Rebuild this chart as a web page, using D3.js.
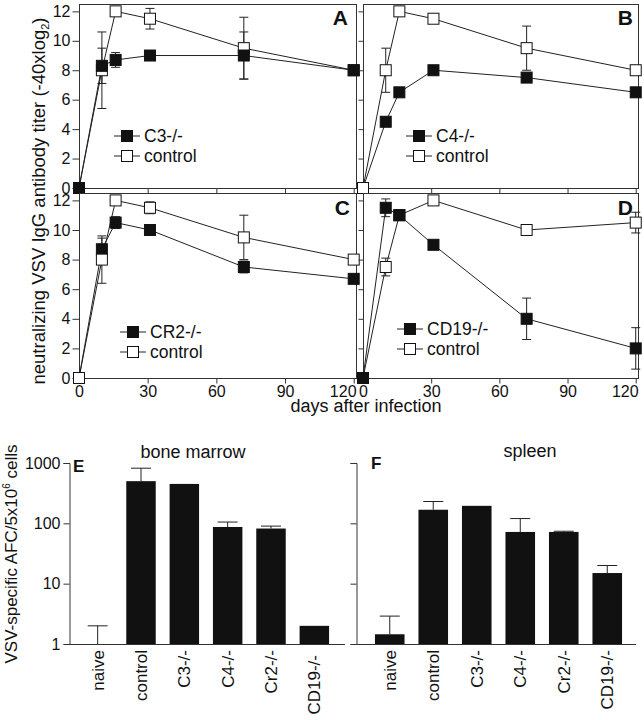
<!DOCTYPE html>
<html><head><meta charset="utf-8">
<script src="https://cdn.jsdelivr.net/npm/d3@7"></script>
<style>
body{margin:0;background:#fff}
svg{display:block}
text{font-family:"Liberation Sans",Arial,Helvetica,sans-serif;fill:#111}
</style>
</head><body>
<svg id="c" width="644" height="720"></svg>
<script>
// ---------- data ----------
const days = [0, 10, 16, 31, 72, 120];
const xTicks = [0, 30, 60, 90, 120];
const yTicks = [0, 2, 4, 6, 8, 10, 12];
const panelLetters = ["A", "B", "C", "D"];
const koNames = ["C3-/-", "C4-/-", "CR2-/-", "CD19-/-"];
const ctrlName = "control";

const koA = [0, 8.3, 8.7, 9, 9, 8];
const koAErr = [0, 1.2, 0.5, 0, 1.6, 0];
const ctrlA = [0, 8, 12, 11.5, 9.5, 8];
const ctrlAErr = [0, 2.6, 0, 0.7, 2.1, 0];

const koB = [0, 4.5, 6.5, 8, 7.5, 6.5];
const koBErr = [0, 0.3, 0, 0, 0.3, 0.3];
const ctrlB = [0, 8, 12, 11.5, 9.5, 8];
const ctrlBErr = [0, 1.5, 0, 0.3, 1.5, 0];

const koC = [0, 8.7, 10.5, 10, 7.5, 6.7];
const koCErr = [0, 0.75, 0.4, 0, 0.4, 0];
const ctrlC = [0, 8, 12, 11.5, 9.5, 8];
const ctrlCErr = [0, 1.6, 0, 0.4, 1.5, 0];

const koD = [0, 11.5, 11, 9, 4, 2];
const koDErr = [0, 0.6, 0, 0, 1.4, 1.4];
const ctrlD = [0, 7.5, 11, 12, 10, 10.5];
const ctrlDErr = [0, 0.6, 0, 0, 0, 0.7];

const barCats = ["naive", "control", "C3-/-", "C4-/-", "Cr2-/-", "CD19-/-"];
const boneMarrow = [1, 500, 450, 87, 82, 2];
const boneMarrowUpper = [2, 820, 450, 105, 90, 2];
const spleen = [1.45, 168, 195, 72, 72, 15];
const spleenUpper = [2.9, 230, 195, 120, 74, 20];
const logTicks = [1, 10, 100, 1000];

// ---------- drawing ----------
const svg = d3.select("#c");
const ink = "#111";

const lineSeries = [
  {ko: koA, koErr: koAErr, ctrl: ctrlA, ctrlErr: ctrlAErr},
  {ko: koB, koErr: koBErr, ctrl: ctrlB, ctrlErr: ctrlBErr},
  {ko: koC, koErr: koCErr, ctrl: ctrlC, ctrlErr: ctrlCErr},
  {ko: koD, koErr: koDErr, ctrl: ctrlD, ctrlErr: ctrlDErr}
];
const lineLayout = [
  {x0: 79, x1: 356, y0: 4, y1: 188, xLab: false, yLab: true, front: "ko", legX: 127, legY: 136, letX: 348, letY: 25},
  {x0: 363, x1: 638, y0: 4, y1: 188, xLab: false, yLab: false, front: "ctrl", legX: 419, legY: 136, letX: 633, letY: 25},
  {x0: 79, x1: 356, y0: 193, y1: 378, xLab: true, yLab: true, front: "ctrl", legX: 133, legY: 332, letX: 350, letY: 215},
  {x0: 363, x1: 638, y0: 193, y1: 378, xLab: true, yLab: false, front: "ko", legX: 410, legY: 329, letX: 633, letY: 215}
];

const sq = 11;
function marker(g, cx, cy, filled) {
  g.append("rect").attr("x", cx - sq / 2).attr("y", cy - sq / 2)
    .attr("width", sq).attr("height", sq)
    .attr("fill", filled ? ink : "#fff").attr("stroke", ink).attr("stroke-width", 1);
}

lineSeries.forEach((s, p) => {
  const L = lineLayout[p];
  const g = svg.append("g");
  const x = d3.scaleLinear().domain([0, 121]).range([L.x0, L.x1]);
  const y = d3.scaleLinear().domain([0, 12.5]).range([L.y1, L.y0]);

  g.append("rect").attr("x", L.x0 + 0.5).attr("y", L.y0 + 0.5)
    .attr("width", L.x1 - L.x0).attr("height", L.y1 - L.y0)
    .attr("fill", "none").attr("stroke", "#333").attr("stroke-width", 1);

  const ya = g.append("g").attr("transform", `translate(${L.x0 + 0.5},0)`)
    .call(d3.axisLeft(y).tickValues(yTicks).tickSize(L.yLab ? 7 : 5).tickPadding(2)
      .tickFormat(L.yLab ? d3.format("d") : ""));
  ya.select(".domain").remove();
  ya.selectAll("text").style("font-size", "16px").attr("fill", ink);
  ya.selectAll("line").attr("stroke", "#333");

  const xa = g.append("g").attr("transform", `translate(0,${L.y1 + 0.5})`)
    .call(d3.axisBottom(x).tickValues(xTicks).tickSize(5).tickPadding(2)
      .tickFormat(L.xLab ? d3.format("d") : ""));
  xa.select(".domain").remove();
  xa.selectAll("text").style("font-size", "16px").attr("fill", ink);
  xa.selectAll("line").attr("stroke", "#333");
  xa.selectAll(".tick").filter(d => d === 120).select("text").attr("dx", -11);

  const line = d3.line().x((d, i) => x(days[i])).y(d => y(d));
  ["ctrl", "ko"].forEach(k => {
    g.append("path").datum(s[k]).attr("d", line)
      .attr("fill", "none").attr("stroke", "#222").attr("stroke-width", 1);
  });
  // error bars
  ["ctrl", "ko"].forEach(k => {
    s[k].forEach((v, i) => {
      const e = s[k + "Err"][i];
      if (!e) return;
      const cx = x(days[i]);
      g.append("line").attr("x1", cx).attr("x2", cx).attr("y1", y(v - e)).attr("y2", y(v + e))
        .attr("stroke", "#222").attr("stroke-width", 1);
      [v - e, v + e].forEach(t => {
        g.append("line").attr("x1", cx - 4.5).attr("x2", cx + 4.5).attr("y1", y(t)).attr("y2", y(t))
          .attr("stroke", "#222").attr("stroke-width", 1);
      });
    });
  });
  const order = L.front === "ko" ? ["ctrl", "ko"] : ["ko", "ctrl"];
  order.forEach(k => {
    s[k].forEach((v, i) => marker(g, x(days[i]), y(v), k === "ko"));
  });

  // legend
  [[koNames[p], true], [ctrlName, false]].forEach((d, j) => {
    const ly = L.legY + j * 20;
    g.append("line").attr("x1", L.legX - 13).attr("x2", L.legX + 13).attr("y1", ly).attr("y2", ly)
      .attr("stroke", "#222");
    marker(g, L.legX, ly, d[1]);
    g.append("text").attr("x", L.legX + 17).attr("y", ly).attr("dy", "0.36em")
      .style("font-size", "17.5px").text(d[0]);
  });

  g.append("text").attr("x", L.letX).attr("y", L.letY).attr("text-anchor", "end")
    .style("font-size", "21px").style("font-weight", "bold").text(panelLetters[p]);
});

svg.append("text").attr("x", 366).attr("y", 412).attr("text-anchor", "middle")
  .style("font-size", "18px").text("days after infection");

const yt = svg.append("text").attr("transform", "translate(45,201) rotate(-90)")
  .attr("text-anchor", "middle").style("font-size", "18.5px");
yt.append("tspan").text("neutralizing VSV IgG antibody titer (-40xlog");
yt.append("tspan").attr("dy", 4).style("font-size", "11px").text("2");
yt.append("tspan").attr("dy", -4).text(")");

// ---------- bar panels ----------
const barSets = [
  {vals: boneMarrow, upper: boneMarrowUpper, title: "bone marrow", letter: "E"},
  {vals: spleen, upper: spleenUpper, title: "spleen", letter: "F"}
];
const barLayout = [
  {ax: 69, r0: 76, r1: 336, baseEnd: 345, tx: 193, ty: 458, lx: 73, ly: 472, labels: true},
  {ax: 356, r0: 368, r1: 629, baseEnd: 636, tx: 530, ty: 457, lx: 371, ly: 469, labels: false}
];
const yl = d3.scaleLog().domain([1, 1000]).range([644, 463]);

barSets.forEach((b, p) => {
  const L = barLayout[p];
  const g = svg.append("g");
  const xb = d3.scaleBand().domain(barCats).range([L.r0, L.r1]).paddingInner(0.32).paddingOuter(0.16);

  const ya = g.append("g").attr("transform", `translate(${L.ax + 0.5},0)`)
    .call(d3.axisLeft(yl).tickValues(logTicks).tickSize(6).tickPadding(3)
      .tickFormat(L.labels ? d3.format("d") : ""));
  ya.select(".domain").attr("stroke", "#333");
  ya.selectAll("text").style("font-size", "16px").attr("fill", ink);
  ya.selectAll("line").attr("stroke", "#333");

  g.append("line").attr("x1", L.ax).attr("x2", L.baseEnd).attr("y1", 644.5).attr("y2", 644.5)
    .attr("stroke", "#333");

  barCats.forEach((c, i) => {
    const v = b.vals[i];
    const cx = xb(c) + xb.bandwidth() / 2;
    if (b.upper[i] > v) {
      g.append("line").attr("x1", cx).attr("x2", cx).attr("y1", yl(v)).attr("y2", yl(b.upper[i]))
        .attr("stroke", "#222");
      g.append("line").attr("x1", cx - 10).attr("x2", cx + 10)
        .attr("y1", yl(b.upper[i])).attr("y2", yl(b.upper[i])).attr("stroke", "#222");
    }
    if (v > 1) {
      g.append("rect").attr("x", xb(c)).attr("y", yl(v)).attr("width", xb.bandwidth())
        .attr("height", 644 - yl(v)).attr("fill", ink);
    }
    const ty = (p === 0 && c === "CD19-/-") ? 655 : 650;
    g.append("text").attr("transform", `translate(${cx},${ty}) rotate(-90)`)
      .attr("text-anchor", "end").attr("dy", "0.35em").style("font-size", "17px").text(c);
  });

  g.append("text").attr("x", L.tx).attr("y", L.ty).attr("text-anchor", "middle")
    .style("font-size", "18px").text(b.title);
  g.append("text").attr("x", L.lx).attr("y", L.ly)
    .style("font-size", "17px").style("font-weight", "bold").text(b.letter);
});

const yt2 = svg.append("text").attr("transform", "translate(17,554) rotate(-90)")
  .attr("text-anchor", "middle").style("font-size", "17px");
yt2.append("tspan").text("VSV-specific AFC/5x10");
yt2.append("tspan").attr("dy", -7).style("font-size", "10px").text("6");
yt2.append("tspan").attr("dy", 7).text(" cells");
</script>
</body></html>
